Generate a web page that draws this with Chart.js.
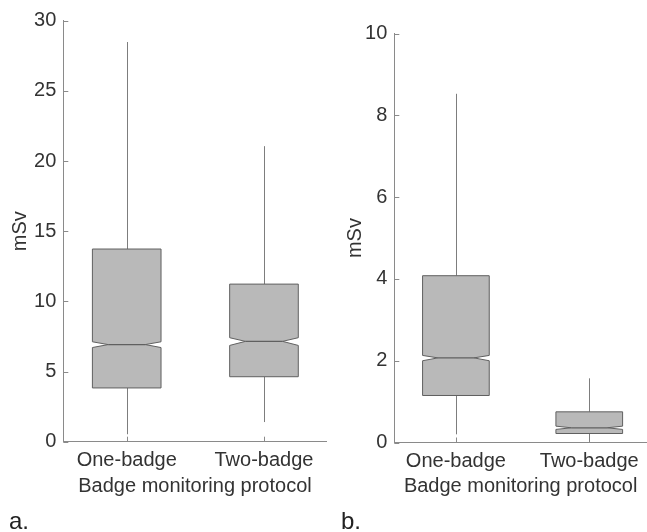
<!DOCTYPE html>
<html>
<head>
<meta charset="utf-8">
<script src="https://cdn.jsdelivr.net/npm/chart.js@4.4.0/dist/chart.umd.min.js"></script>
<style>
  html, body { margin: 0; padding: 0; background: #ffffff; }
  #wrap { position: relative; width: 647px; height: 532px; overflow: hidden; background: #fff; }
  canvas { position: absolute; top: 0; }
  #cA { left: 0; }
  #cB { left: 330px; }
  .panel { position: absolute; font-family: 'Liberation Sans', Arial, sans-serif; font-size: 24px; color: #222; line-height: 1; }
</style>
</head>
<body>
<div id="wrap">
  <canvas id="cA" width="330" height="532"></canvas>
  <canvas id="cB" width="317" height="532"></canvas>
  <div class="panel" style="left:9px; top:509px;">a.</div>
  <div class="panel" style="left:341px; top:509px;">b.</div>
</div>
<script>
// ---- data ----
const categories = ['One-badge', 'Two-badge'];

// Panel a
const aWhiskerLow  = [0.53, 1.40];
const aQ1          = [3.83, 4.63];
const aNotchLow    = [6.71, 6.86];
const aMedian      = [6.92, 7.15];
const aNotchHigh   = [7.12, 7.41];
const aQ3          = [13.73, 11.23];
const aWhiskerHigh = [28.48, 21.06];
const aTicks       = [0, 5, 10, 15, 20, 25, 30];

// Panel b
const bWhiskerLow  = [0.20, 0.03];
const bQ1          = [1.15, 0.22];
const bNotchLow    = [2.00, 0.32];
const bMedian      = [2.07, 0.36];
const bNotchHigh   = [2.13, 0.40];
const bQ3          = [4.08, 0.75];
const bWhiskerHigh = [8.53, 1.57];
const bTicks       = [0, 2, 4, 6, 8, 10];

const xTitle = 'Badge monitoring protocol';
const yTitle = 'mSv';

// ---- styling ----
const FONT = "'Liberation Sans', Arial, sans-serif";
const TEXT = '#333333';
const AXIS = '#8a8a8a';
const BOX_FILL = '#b9b9b9';
const BOX_EDGE = '#606060';
const WHISKER = '#7d7d7d';
const BOX_WIDTH = 0.5;     // in x units
const NOTCH_INSET = 0.23;  // fraction of box width

const boxPlugin = {
  id: 'notchedBox',
  afterDatasetsDraw(chart) {
    const st = chart.options.plugins.notchedBox;
    const xs = chart.scales.x, ys = chart.scales.y;
    const ctx = chart.ctx;
    const area = chart.chartArea;
    ctx.save();
    // inward ticks
    ctx.strokeStyle = AXIS; ctx.lineWidth = 1;
    ys.ticks.forEach(t => {
      const y = Math.round(ys.getPixelForValue(t.value)) + 0.5;
      ctx.beginPath(); ctx.moveTo(area.left, y); ctx.lineTo(area.left + 5, y); ctx.stroke();
    });
    xs.ticks.forEach(t => {
      const x = Math.round(xs.getPixelForValue(t.value)) + 0.5;
      ctx.beginPath(); ctx.moveTo(x, area.bottom); ctx.lineTo(x, area.bottom - 5); ctx.stroke();
    });
    categories.forEach((c, i) => {
      const pos = i + 1;
      const xc = Math.round(xs.getPixelForValue(pos)) + 0.5;
      const L = xs.getPixelForValue(pos - BOX_WIDTH / 2);
      const R = xs.getPixelForValue(pos + BOX_WIDTH / 2);
      const ins = (R - L) * NOTCH_INSET;
      const y = v => ys.getPixelForValue(v);
      // whiskers
      ctx.strokeStyle = WHISKER; ctx.lineWidth = 1;
      ctx.beginPath();
      ctx.moveTo(xc, y(st.whiskerHigh[i])); ctx.lineTo(xc, y(st.q3[i]));
      ctx.moveTo(xc, y(st.q1[i])); ctx.lineTo(xc, y(st.whiskerLow[i]));
      ctx.stroke();
      // notched box
      ctx.beginPath();
      ctx.moveTo(L, y(st.q1[i]));
      ctx.lineTo(L, y(st.notchLow[i]));
      ctx.lineTo(L + ins, y(st.median[i]));
      ctx.lineTo(L, y(st.notchHigh[i]));
      ctx.lineTo(L, y(st.q3[i]));
      ctx.lineTo(R, y(st.q3[i]));
      ctx.lineTo(R, y(st.notchHigh[i]));
      ctx.lineTo(R - ins, y(st.median[i]));
      ctx.lineTo(R, y(st.notchLow[i]));
      ctx.lineTo(R, y(st.q1[i]));
      ctx.closePath();
      ctx.fillStyle = BOX_FILL; ctx.fill();
      ctx.strokeStyle = BOX_EDGE; ctx.lineWidth = 1; ctx.stroke();
      // median
      ctx.beginPath();
      ctx.moveTo(L + ins, y(st.median[i])); ctx.lineTo(R - ins, y(st.median[i]));
      ctx.strokeStyle = BOX_EDGE; ctx.lineWidth = 1.2; ctx.stroke();
    });
    ctx.restore();
  }
};

function makeChart(id, s) {
  const font = { family: FONT, size: 20 };
  return new Chart(document.getElementById(id), {
    type: 'scatter',
    data: {
      datasets: [{
        data: categories.map((c, i) => ({ x: i + 1, y: s.median[i] })),
        pointRadius: 0, pointHoverRadius: 0, showLine: false
      }]
    },
    options: {
      responsive: false, animation: false, events: [],
      layout: { padding: { left: 0, top: s.top, right: s.right, bottom: 0 } },
      plugins: {
        legend: { display: false }, tooltip: { enabled: false },
        notchedBox: s
      },
      scales: {
        x: {
          type: 'linear', min: 0.538, max: s.xmax,
          afterBuildTicks: sc => { sc.ticks = categories.map((c, i) => ({ value: i + 1 })); },
          ticks: { callback: v => categories[v - 1], font, color: TEXT, padding: 7, maxRotation: 0, autoSkip: false },
          grid: { display: true, drawOnChartArea: false, drawTicks: false, color: AXIS },
          border: { display: true, color: AXIS, width: 1 },
          title: { display: true, text: xTitle, font, color: TEXT, padding: { top: 0, bottom: 33.6 } },
          afterFit: sc => { sc.height = 532 - s.bottomY; }
        },
        y: {
          type: 'linear', min: 0, max: s.ticks[s.ticks.length - 1],
          afterBuildTicks: sc => { sc.ticks = s.ticks.map(v => ({ value: v })); },
          ticks: { font, color: TEXT, padding: 7 },
          grid: { display: true, drawOnChartArea: false, drawTicks: false, color: AXIS },
          border: { display: true, color: AXIS, width: 1 },
          title: { display: true, text: yTitle, font, color: TEXT, padding: { top: s.ytp, bottom: 0 } },
          afterFit: sc => { sc.width = s.axisX; }
        }
      }
    },
    plugins: [boxPlugin]
  });
}

makeChart('cA', {
  whiskerLow: aWhiskerLow, q1: aQ1, notchLow: aNotchLow, median: aMedian,
  notchHigh: aNotchHigh, q3: aQ3, whiskerHigh: aWhiskerHigh, ticks: aTicks,
  top: 20.7, right: 3.3, bottomY: 441.7, axisX: 63.3, ytp: 8, xmax: 2.457
});
makeChart('cB', {
  whiskerLow: bWhiskerLow, q1: bQ1, notchLow: bNotchLow, median: bMedian,
  notchHigh: bNotchHigh, q3: bQ3, whiskerHigh: bWhiskerHigh, ticks: bTicks,
  top: 33.7, right: 0, bottomY: 442.5, axisX: 64.3, ytp: 13, xmax: 2.433
});
</script>
</body>
</html>
